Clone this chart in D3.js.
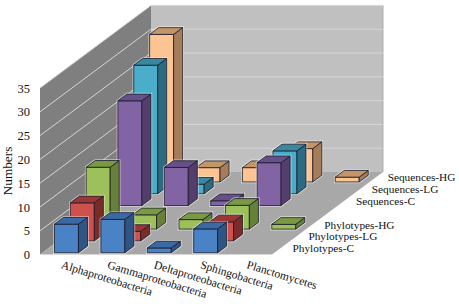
<!DOCTYPE html>
<html>
<head>
<meta charset="utf-8">
<script src="https://cdn.jsdelivr.net/npm/d3@7"></script>
<style>
    body { margin: 0; background: #fff; }
    text { font-family: "Liberation Serif", serif; fill: #111; }
</style>
</head>
<body>
<svg id="chart" width="459" height="304"></svg>
<script>
// data
const categories = ['Alphaproteobacteria', 'Gammaproteobacteria', 'Deltaproteobacteria', 'Sphingobacteria', 'Planctomycetes'];
// the blank slot is the empty row between the two groups
const depthSlots = ['Phylotypes-C', 'Phylotypes-LG', 'Phylotypes-HG', '', 'Sequences-C', 'Sequences-LG', 'Sequences-HG'];
const phylotypesC = [6, 7, 1, 5, 0];
const phylotypesLG = [8, 2, 0, 4, 0];
const phylotypesHG = [13, 3, 2, 5, 1];
const sequencesC = [22, 8, 1, 9, 0];
const sequencesLG = [27, 2, 0, 9, 0];
const sequencesHG = [31, 3, 3, 7, 1];
const yTicks = [0, 5, 10, 15, 20, 25, 30, 35];

const seriesValues = {
    'Phylotypes-C': phylotypesC,
    'Phylotypes-LG': phylotypesLG,
    'Phylotypes-HG': phylotypesHG,
    'Sequences-C': sequencesC,
    'Sequences-LG': sequencesLG,
    'Sequences-HG': sequencesHG
};

// front, side, top
const faceColors = {
    'Phylotypes-C': ['#4a82c6', '#2f5584', '#3a69a3'],
    'Phylotypes-LG': ['#cf514e', '#7c2b2b', '#9c3634'],
    'Phylotypes-HG': ['#9dc05a', '#67803a', '#7a9a42'],
    'Sequences-C': ['#8263a3', '#543f6c', '#66508a'],
    'Sequences-LG': ['#4aadc9', '#2d6b80', '#39889f'],
    'Sequences-HG': ['#fcc492', '#a67c5a', '#c49566']
};

// floor corners
const left = 40, right = 272, floorY = 254.6;
const depthDx = 111, depthDy = -82.6;

const x = d3.scaleBand().domain(categories).range([left, right])
    .paddingInner(0.483).paddingOuter(0.2415).align(0.533);
const depth = d3.scaleBand().domain(depthSlots).range([0, 1])
    .paddingInner(0.43).paddingOuter(0.215).align(0.37);
const y = d3.scaleLinear().domain([0, 35]).range([0, 166.6]);

// oblique projection: px along the width, d in 0..1 into the chart, v in chart values
const project = (px, d, v) => [px + d * depthDx, floorY + d * depthDy - y(v)];
const path = (pts) => 'M' + pts.map(p => p.map(n => n.toFixed(2)).join(',')).join('L') + 'Z';

const svg = d3.select('#chart');
const yMax = yTicks[yTicks.length - 1];

// walls and floor
svg.append('path')
    .attr('d', path([project(left, 0, 0), project(left, 1, 0), project(left, 1, yMax), project(left, 0, yMax)]))
    .attr('fill', '#7f7f7f');
svg.append('path')
    .attr('d', path([project(left, 1, 0), project(right, 1, 0), project(right, 1, yMax), project(left, 1, yMax)]))
    .attr('fill', '#c0c0c0');
svg.append('path')
    .attr('d', path([project(left, 0, 0), project(right, 0, 0), project(right, 1, 0), project(left, 1, 0)]))
    .attr('fill', '#a8a8a8');
svg.append('path')
    .attr('d', `M${project(right, 1, 0)}L${project(right, 1, yMax)}`)
    .attr('stroke', '#adadad')
    .attr('stroke-width', 1);
svg.append('path')
    .attr('d', `M${project(left, 0, 0)}L${project(right, 0, 0)}`)
    .attr('stroke', '#d8d8d8')
    .attr('stroke-width', 1);

// gridlines
svg.append('g')
    .selectAll('path')
    .data(yTicks.slice(1))
    .join('path')
    .attr('d', d => `M${project(left, 0, d)}L${project(left, 1, d)}L${project(right, 1, d)}`)
    .attr('fill', 'none')
    .attr('stroke', '#d6d6d6')
    .attr('stroke-width', 1);

// bars, back row first so the front rows cover them
const bars = svg.append('g');
depthSlots.slice().reverse().filter(s => s !== '').forEach(series => {
    const colors = faceColors[series];
    categories.forEach((cat, i) => {
        const v = seriesValues[series][i];
        if (!v) return;
        const x0 = x(cat), x1 = x0 + x.bandwidth();
        const d0 = depth(series), d1 = d0 + depth.bandwidth();
        const front = [project(x0, d0, 0), project(x1, d0, 0), project(x1, d0, v), project(x0, d0, v)];
        const side = [project(x1, d0, 0), project(x1, d1, 0), project(x1, d1, v), project(x1, d0, v)];
        const top = [project(x0, d0, v), project(x1, d0, v), project(x1, d1, v), project(x0, d1, v)];
        const outline = [front[0], front[1], side[1], side[2], top[3], front[3]];

        // pale halo round each bar
        bars.append('path').attr('d', path(outline))
            .attr('fill', 'none').attr('stroke', '#fff').attr('stroke-opacity', 0.55).attr('stroke-width', 2.6);
        [[front, colors[0]], [side, colors[1]], [top, colors[2]]].forEach(([pts, fill]) => {
            bars.append('path').attr('d', path(pts))
                .attr('fill', fill)
                .attr('stroke', '#1b1b2a')
                .attr('stroke-width', 0.8)
                .attr('stroke-linejoin', 'round');
        });
    });
});

// y axis labels
const yAxisScale = d3.scaleLinear().domain([0, 35]).range([floorY, floorY - 166.6]);
const yAxis = svg.append('g')
    .attr('transform', `translate(${left - 10}, 0)`)
    .call(d3.axisLeft(yAxisScale).tickValues(yTicks).tickSize(0).tickPadding(0));
yAxis.select('.domain').remove();
yAxis.selectAll('text').attr('font-size', 12.5).attr('font-family', '"Liberation Serif", serif').attr('fill', '#111');

svg.append('text')
    .attr('transform', 'translate(12, 171)rotate(-90)')
    .attr('text-anchor', 'middle')
    .attr('font-size', 13.3)
    .text('Numbers');

// category labels
svg.append('g')
    .selectAll('text')
    .data(categories)
    .join('text')
    .attr('transform', d => `translate(${x(d) + 8.5}, 268)rotate(17)`)
    .attr('font-size', 11.6)
    .text(d => d);

// series labels run up along the right floor edge
svg.append('g')
    .selectAll('text')
    .data(depthSlots.filter(s => s !== ''))
    .join('text')
    .attr('transform', d => {
        const p = project(right, depth(d), 0);
        return `translate(${p[0] + 18}, ${p[1] - 0.5})`;
    })
    .attr('font-size', 11.3)
    .text(d => d);
</script>
</body>
</html>
